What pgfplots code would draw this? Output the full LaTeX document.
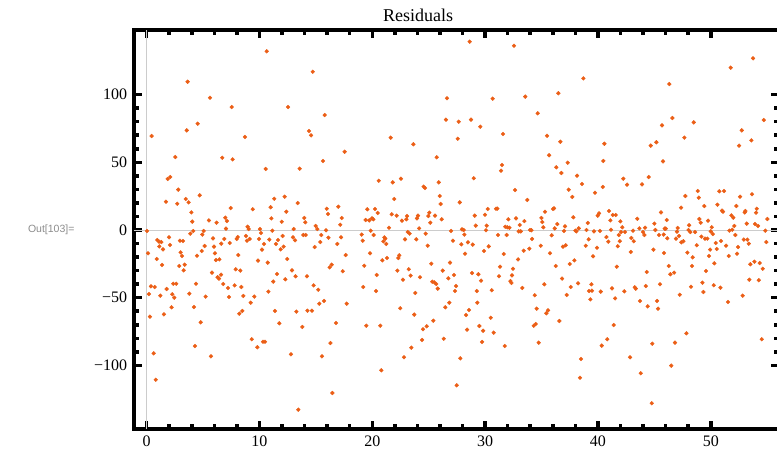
\documentclass[border=0pt]{standalone}
\usepackage{pgfplots}
\pgfplotsset{compat=1.18}
\usepackage{fontspec}
\setmainfont{Liberation Serif}
\newfontfamily\outfont{Liberation Sans}
\definecolor{pts}{RGB}{235,94,22}
\begin{document}
\begin{tikzpicture}[x=1pt,y=1pt]
\useasboundingbox (0,0) rectangle (777,456);
\node[anchor=east, text=black!45, font=\outfont\fontsize{10.5}{12}\selectfont] at (78,226) {Out[103]=};
\begin{axis}[
    at={(133.7pt,26.7pt)}, anchor=south west,
    scale only axis, width=645.3pt, height=399pt,
    xmin=-1.15, xmax=56.05, ymin=-147.2, ymax=147.5,
    xtick={0,10,20,30,40,50}, xticklabels={0,10,20,30,40,50},
    ytick={-100,-50,0,50,100}, yticklabels={−100,−50,0,50,100},
    minor x tick num=4, minor y tick num=4,
    major tick length=8pt, minor tick length=5pt,
    tick style={black, line width=3.5pt},
    axis line style={line width=4pt},
    tick label style={font=\fontsize{16}{18}\selectfont},
    xticklabel style={yshift=-3pt},
    yticklabel style={xshift=-3pt},
]
\draw[black!20, line width=1pt] (axis cs:0,-147.2) -- (axis cs:0,147.5);
\draw[black!20, line width=1pt] (axis cs:-1.15,0) -- (axis cs:56.05,0);
\addplot[only marks, mark=*, mark size=1.9pt, pts] coordinates {
(3.63,109.5)(5.61,97.7)(7.54,90.8)(4.52,78.5)(3.55,73.6)(0.44,69.4)(2.54,53.9)(6.70,53.4)(7.62,52.2)(1.86,37.7)(2.09,39.1)(2.80,29.8)(1.71,20.9)(2.71,19.4)(3.46,22.9)(3.72,20.4)(4.70,25.6)(7.45,16.2)(3.96,13.0)(4.04,6.2)(5.52,7.1)(6.20,5.4)(6.97,9.1)(7.12,6.6)(7.03,1.0)(0.03,-0.7)
(3.87,-2.7)(4.13,-0.7)(5.05,-0.7)(4.93,-3.4)(0.94,-7.4)(1.09,-8.6)(1.30,-8.9)(1.98,-5.4)(2.95,-7.9)(3.22,-8.1)(1.12,-12.1)(1.45,-14.3)(2.07,-11.1)(0.12,-17.2)(3.01,-16.5)(3.13,-19.2)(0.89,-21.4)(1.36,-25.8)(2.89,-26.6)(3.37,-25.6)(3.28,-29.8)(4.46,-19.0)(4.88,-15.5)(5.14,-11.8)(5.88,-6.2)(5.97,-12.3)(6.05,-17.2)(6.14,-22.2)(6.44,-21.7)(6.61,-10.1)(6.88,-6.6)(7.36,-9.6)(7.98,-6.6)(5.79,-31.5)(6.29,-34.9)(6.41,-35.9)(6.59,-33.0)(6.79,-39.9)(7.21,-42.8)(7.30,-49.5)(7.80,-40.9)(7.89,-29.0)(0.38,-41.6)(0.71,-42.1)(0.20,-47.3)(1.21,-48.5)(1.77,-43.6)(2.36,-39.7)(2.62,-39.7)(2.27,-47.5)(2.45,-50.0)(3.78,-47.0)(4.37,-39.7)(5.23,-49.2)(0.29,-64.0)(1.53,-62.3)(2.21,-57.1)(4.19,-56.9)(4.79,-68.2)(0.62,-91.1)(0.80,-110.6)(4.28,-85.7)(5.70,-93.3)
(10.64,132.0)(14.72,116.9)(12.53,90.8)(15.78,84.9)(14.39,73.1)(14.57,69.9)(8.71,68.7)(15.63,51.0)(10.55,45.1)(13.56,45.3)(11.31,23.1)(12.23,24.6)(13.39,19.9)(9.40,15.3)(10.99,16.8)(12.38,13.5)(11.05,8.6)(11.97,6.1)(13.97,8.9)(14.06,5.7)(15.96,15.7)(16.07,11.8)(16.99,17.2)(17.29,8.9)(17.16,3.9)(8.95,2.4)(9.04,0.7)(10.04,0.7)(13.03,0.7)(14.98,3.0)(15.13,0.7)
(10.13,-2.2)(11.14,-0.5)(15.90,-0.2)(8.07,-5.2)(8.80,-4.4)(8.89,-7.9)(9.13,-6.6)(9.96,-6.6)(10.40,-10.3)(10.22,-14.5)(10.87,-7.1)(11.64,-7.4)(11.46,-10.3)(12.05,-4.4)(12.14,-12.3)(11.88,-14.3)(12.97,-5.4)(13.15,-7.6)(13.89,-3.7)(14.10,-3.7)(15.48,-3.7)(14.89,-12.6)(15.39,-8.9)(16.11,-5.7)(16.90,-10.3)(17.23,-5.4)(8.12,-18.5)(8.30,-30.0)(8.39,-42.1)(8.57,-48.7)(8.21,-61.8)(8.48,-59.8)(9.87,-22.6)(10.73,-24.1)(11.55,-32.5)(11.22,-38.1)(12.29,-36.4)(12.46,-21.4)(12.88,-29.8)(13.20,-34.2)(14.21,-34.2)(14.80,-40.9)(15.21,-44.1)(16.22,-27.6)(16.40,-25.6)(17.38,-30.5)(9.22,-53.7)(9.54,-49.2)(10.79,-45.5)(11.37,-59.8)(13.27,-60.3)(14.25,-59.6)(14.65,-59.6)(15.30,-54.4)(15.72,-52.4)(11.76,-68.9)(13.80,-71.6)(16.78,-68.7)(9.31,-80.7)(9.81,-86.6)(10.31,-82.5)(10.49,-82.5)(12.79,-91.8)(15.54,-93.3)(16.29,-83.5)(16.46,-120.4)(13.44,-132.7)
(26.62,97.3)(26.53,81.5)(17.55,57.8)(21.63,68.2)(23.64,63.3)(25.71,53.7)(20.57,36.4)(21.81,35.2)(22.54,37.9)(24.55,32.0)(24.67,31.0)(25.89,35.2)(25.98,25.1)(26.06,19.2)(21.95,22.9)(19.56,15.3)(20.24,15.5)(20.48,12.6)(19.41,7.4)(19.73,7.1)(19.97,8.6)(20.09,7.9)(21.72,11.6)(22.16,10.6)(22.63,6.9)(23.02,7.9)(23.08,10.3)(23.96,8.6)(24.05,10.6)(25.05,12.8)(24.97,10.3)(25.14,5.4)(25.56,10.6)(26.15,7.9)(21.48,1.7)(24.15,1.2)
(19.86,-0.5)(19.06,-3.4)(20.12,-3.7)(19.15,-7.9)(21.07,-5.4)(21.15,-6.4)(20.98,-8.4)(21.24,-10.3)(23.14,-1.5)(23.31,-2.7)(24.73,-2.7)(22.90,-6.9)(23.90,-6.9)(24.91,-11.6)(17.64,-18.5)(19.80,-17.2)(20.89,-22.4)(21.30,-20.7)(22.31,-20.7)(22.39,-18.7)(19.29,-26.4)(20.39,-33.2)(22.22,-30.0)(22.72,-36.7)(23.23,-29.0)(23.40,-33.7)(24.23,-34.9)(25.23,-24.9)(26.24,-30.0)(25.32,-38.2)(25.50,-38.7)(25.67,-39.9)(25.80,-43.3)(19.20,-42.1)(20.33,-45.1)(23.81,-46.5)(17.73,-54.4)(22.48,-57.8)(23.72,-62.5)(25.41,-67.0)(24.82,-71.1)(24.49,-73.3)(26.47,-57.1)(26.33,-80.3)(19.47,-70.7)(20.71,-70.7)(24.41,-81.2)(23.46,-86.9)(22.81,-94.0)(20.80,-103.6)
(28.63,139.1)(32.56,136.1)(30.67,97.0)(33.56,98.5)(34.66,86.2)(27.66,80.0)(28.75,81.5)(29.57,76.3)(27.57,67.4)(31.59,70.9)(35.49,69.6)(35.67,55.2)(31.50,48.0)(31.41,43.8)(28.99,38.2)(32.65,29.5)(27.75,20.4)(33.74,22.2)(29.08,10.6)(30.23,15.5)(29.99,11.3)(30.97,15.7)(31.09,15.8)(32.06,7.9)(32.74,8.6)(33.48,6.6)(35.31,13.5)(34.99,8.9)(35.07,5.9)(29.17,3.2)(30.14,3.2)(31.79,2.4)(31.97,2.0)(32.15,1.7)(33.07,3.7)(35.16,2.0)
(26.98,-0.7)(27.95,0.5)(28.10,0.0)(30.08,-0.2)(28.16,-3.4)(31.14,-3.7)(31.91,-3.7)(32.98,-1.0)(33.16,-1.0)(33.98,0.0)(34.10,-0.2)(35.90,-3.9)(27.15,-7.9)(27.89,-10.6)(28.48,-9.1)(28.90,-10.8)(28.22,-17.5)(29.90,-15.5)(30.32,-12.1)(31.65,-17.7)(32.92,-21.7)(33.42,-15.3)(33.92,-13.8)(34.16,-6.6)(34.93,-11.6)(35.75,-17.2)(26.89,-24.1)(26.74,-35.7)(27.24,-33.2)(27.42,-41.4)(27.33,-45.1)(26.83,-53.7)(28.84,-31.8)(29.40,-32.7)(29.64,-37.4)(29.26,-45.1)(29.31,-53.7)(28.57,-59.1)(28.31,-62.8)(30.59,-44.5)(31.32,-27.1)(31.23,-34.2)(32.47,-28.6)(32.38,-33.5)(32.24,-37.7)(32.33,-39.1)(33.30,-42.8)(35.25,-40.1)(34.40,-48.2)(34.57,-58.1)(35.43,-61.5)(35.58,-59.3)(30.50,-64.8)(29.49,-70.9)(29.82,-74.4)(30.76,-75.8)(28.40,-73.6)(29.73,-82.7)(31.74,-85.7)(34.31,-70.7)(34.49,-69.4)(34.75,-83.2)(27.80,-94.8)(27.48,-114.7)
(38.71,112.0)(36.49,101.0)(45.68,77.3)(36.67,65.2)(40.57,63.7)(45.18,64.8)(44.68,62.3)(40.48,51.0)(45.77,50.7)(37.32,49.7)(36.31,46.3)(36.76,42.1)(38.15,40.1)(38.59,34.0)(37.41,29.8)(37.73,24.4)(39.74,27.5)(40.43,31.8)(42.25,37.9)(42.58,33.5)(43.91,33.7)(44.50,39.1)(36.02,15.5)(36.11,16.0)(37.82,9.4)(36.40,4.4)(37.08,2.7)(36.17,1.2)(38.30,1.2)(39.10,5.2)(39.98,10.6)(40.10,12.3)(40.98,14.0)(41.10,7.1)(41.31,11.1)(41.58,11.1)(41.99,6.4)(42.16,2.0)(43.49,8.3)(43.67,1.2)(44.18,1.7)(45.00,4.7)(45.59,13.0)
(37.00,-0.7)(38.00,-0.5)(38.09,-1.0)(38.99,0.0)(39.65,-1.0)(40.18,-0.7)(41.16,0.2)(42.05,-1.5)(42.40,-1.5)(43.11,-0.5)(44.00,-1.5)(44.12,-3.7)(45.09,0.0)(45.92,1.0)(45.41,-3.7)(45.83,-3.4)(36.90,-12.3)(37.14,-11.3)(39.18,-6.9)(38.92,-11.6)(39.92,-13.1)(39.57,-19.4)(40.75,-5.2)(40.92,-8.6)(41.76,-12.0)(41.85,-3.7)(41.94,-8.3)(42.96,-5.9)(43.17,-8.3)(42.91,-16.2)(44.92,-14.5)(45.86,-17.0)(36.26,-26.6)(37.50,-25.1)(37.91,-22.4)(41.67,-27.1)(44.33,-31.0)(36.82,-35.9)(37.59,-42.1)(38.24,-39.4)(39.42,-40.1)(39.21,-45.1)(39.47,-44.8)(40.25,-45.5)(41.25,-43.1)(42.34,-45.3)(43.26,-42.3)(43.35,-43.3)(44.24,-41.4)(45.50,-40.1)(37.23,-48.0)(39.33,-51.2)(41.52,-50.5)(43.73,-52.4)(44.41,-56.4)(45.24,-52.4)(45.33,-58.1)(36.58,-67.2)(41.40,-70.2)(40.83,-80.7)(40.34,-85.4)(44.82,-84.0)(38.50,-95.3)(42.85,-94.0)(38.41,-109.1)(43.80,-105.8)(44.77,-128.0)
(53.75,126.8)(51.77,119.9)(46.33,107.8)(46.60,82.7)(48.49,79.5)(54.70,81.2)(52.75,73.6)(47.66,68.2)(53.60,66.2)(52.51,62.3)(48.85,28.8)(50.76,28.6)(51.18,28.8)(47.75,25.1)(48.94,23.9)(52.60,24.6)(53.66,26.4)(49.43,17.7)(50.59,18.7)(51.00,14.3)(51.09,13.5)(52.27,17.7)(47.37,16.5)(53.07,14.0)(53.01,13.0)(54.08,15.7)(54.02,12.8)(51.83,10.8)(52.00,9.1)(46.10,7.4)(48.99,8.1)(49.11,5.4)(49.76,6.9)(55.02,8.1)(48.08,3.5)(50.09,2.0)(52.09,3.0)(53.19,4.7)(53.93,4.4)(54.19,3.0)(46.01,1.0)(47.07,1.5)
(48.03,0.0)(48.19,-1.5)(48.61,-1.5)(50.00,-1.0)(50.18,-3.0)(51.65,-0.5)(51.91,0.2)(54.84,-0.5)(46.15,-6.1)(46.92,-6.4)(47.19,-4.4)(47.01,-1.2)(47.39,-9.1)(47.57,-8.3)(48.76,-11.3)(49.17,-4.9)(49.49,-6.4)(49.70,-6.4)(49.94,-14.5)(50.53,-14.0)(50.44,-9.6)(50.91,-8.1)(51.36,-11.6)(52.18,-3.7)(52.42,-12.6)(52.93,-7.1)(53.25,-7.1)(53.37,-10.1)(54.93,-8.9)(47.93,-16.7)(48.40,-20.2)(49.85,-19.2)(51.59,-19.2)(52.33,-17.5)(46.28,-26.6)(46.42,-32.7)(46.75,-31.5)(48.34,-26.6)(49.58,-30.3)(50.32,-24.6)(53.51,-25.3)(53.87,-23.4)(54.34,-24.4)(54.61,-28.6)(53.42,-36.7)(54.26,-37.1)(48.25,-41.9)(49.26,-38.9)(49.35,-45.8)(50.27,-40.8)(50.86,-42.6)(47.25,-47.8)(51.53,-53.2)(52.83,-48.5)(47.84,-76.3)(46.83,-83.2)(54.52,-80.7)(46.50,-100.2)
};
\end{axis}
\node[font=\fontsize{18}{21}\selectfont] at (418,441) {Residuals};
\end{tikzpicture}
\end{document}
